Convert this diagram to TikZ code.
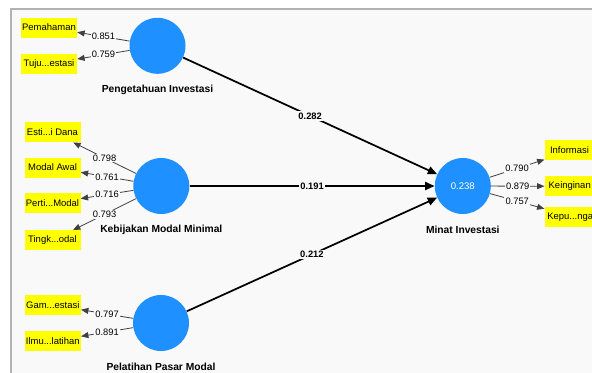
\documentclass[tikz,border=0pt]{standalone}
\usepackage{fontspec}
\setmainfont{Liberation Sans}
\usetikzlibrary{arrows.meta}
\definecolor{lvblue}{HTML}{1E90FF}
\definecolor{panel}{HTML}{F9F9F9}
\definecolor{indyel}{HTML}{FFFF00}

\begin{document}
\begin{tikzpicture}[x=0.75pt,y=-0.75pt,
    lv/.style={circle,fill=lvblue,minimum size=42pt,inner sep=0pt,text=white,font=\fontsize{7.2}{8}\selectfont},
    ind/.style={fill=indyel,minimum width=42pt,minimum height=15pt,inner sep=0.5pt,font=\fontsize{7.1}{8}\selectfont},
    indr/.style={ind,text width=40pt,align=left,inner xsep=2pt},
    lvname/.style={font=\bfseries\fontsize{7.7}{9}\selectfont},
    ld/.style={fill=panel,inner sep=0.8pt,font=\fontsize{7}{8}\selectfont},
    pc/.style={fill=panel,inner sep=1pt,font=\bfseries\fontsize{7}{8}\selectfont},
    outer/.style={draw=black!75,line width=0.6pt,-{Triangle[length=5.5pt,width=4.5pt]}},
    inner/.style={draw=black,line width=1.3pt,-{Triangle[length=7pt,width=6pt]}}]
  \useasboundingbox (0,0) rectangle (592,372);
  \clip (0,0) rectangle (592,372);
  \fill[panel] (11,9) rectangle (600,380);
  \draw[black!30,line width=0.8pt] (11,380) -- (11,9) -- (600,9);

  \node[lv] (pi) at (157.5,45.8) {};
  \node[lv] (kmm) at (161.3,186) {};
  \node[lv] (ppm) at (161,323) {};
  \node[lv] (mi) at (462.8,186) {0.238};

  \node[lvname] (pi-n) at (157.5,90) {Pengetahuan Investasi};
  \node[lvname] (kmm-n) at (161.3,229.5) {Kebijakan Modal Minimal};
  \node[lvname] (ppm-n) at (161,366.5) {Pelatihan Pasar Modal};
  \node[lvname] (mi-n) at (462.8,229.5) {Minat Investasi};

  \node[ind] (pem) at (49,27.5) {Pemahaman};
  \node[ind] (tuj) at (49,63.7) {Tuju...estasi};
  \node[ind] (est) at (52.5,132.2) {Esti...i Dana};
  \node[ind] (mod) at (52.5,167.5) {Modal Awal};
  \node[ind] (per) at (52.5,203) {Perti...Modal};
  \node[ind] (tin) at (52.5,240.3) {Tingk...odal};
  \node[ind] (gam) at (52.8,305) {Gam...estasi};
  \node[ind] (ilm) at (52.8,341) {Ilmu...latihan};
  \node[indr] (inf) at (574,150) {\hspace*{2pt}Informasi};
  \node[indr] (kei) at (574,186.3) {\hspace*{1pt}Keinginan};
  \node[indr] (kep) at (574,217) {Kepu...nga};

  \draw[outer] (pi) -- node[ld] {0.851} (pem);
  \draw[outer] (pi) -- node[ld] {0.759} (tuj);
  \draw[outer] (kmm) -- node[ld] {0.798} (est);
  \draw[outer] (kmm) -- node[ld] {0.761} (mod);
  \draw[outer] (kmm) -- node[ld] {0.716} (per);
  \draw[outer] (kmm) -- node[ld] {0.793} (tin);
  \draw[outer] (ppm) -- node[ld] {0.797} (gam);
  \draw[outer] (ppm) -- node[ld] {0.891} (ilm);
  \draw[outer] (mi) -- node[ld] {0.790} (inf);
  \draw[outer] (mi) -- node[ld] {0.879} (kei);
  \draw[outer] (mi) -- node[ld] {0.757} (kep);

  \draw[inner] (pi) -- node[pc] {0.282} (mi);
  \draw[inner] (kmm) -- node[pc] {0.191} (mi);
  \draw[inner] (ppm) -- node[pc] {0.212} (mi);
\end{tikzpicture}
\end{document}
